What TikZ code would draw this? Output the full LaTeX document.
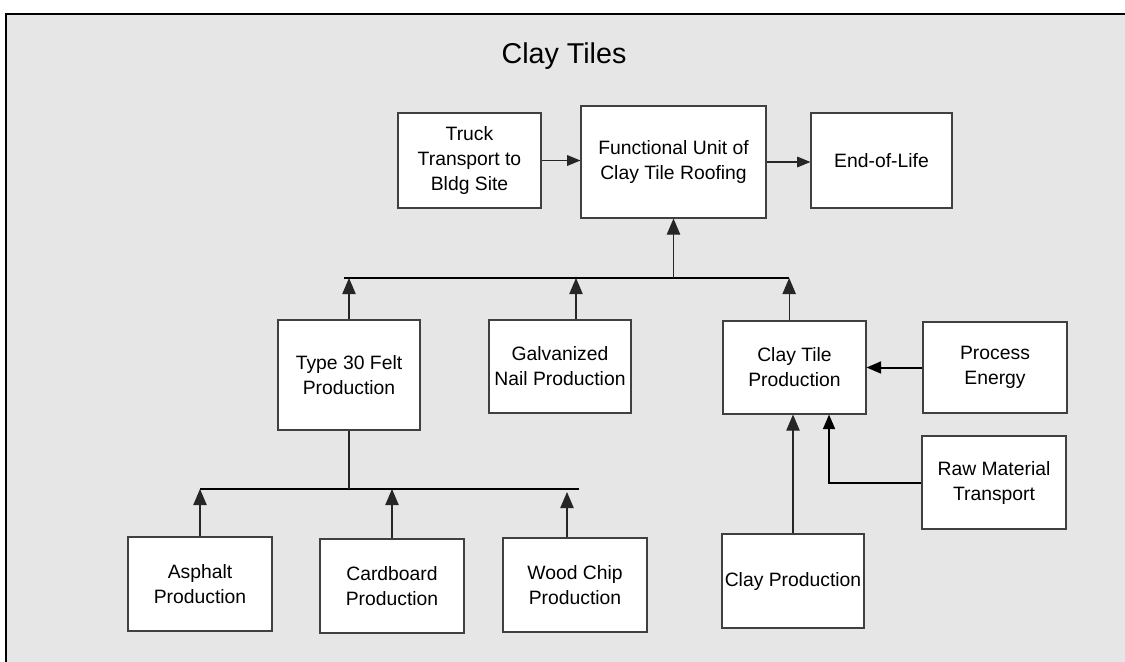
\documentclass[tikz,border=0pt]{standalone}
\usepackage{fontspec}
\setmainfont{Liberation Sans}
\usetikzlibrary{arrows.meta}
\definecolor{bg}{HTML}{E6E6E6}
\definecolor{edge}{HTML}{404040}
\begin{document}
\begin{tikzpicture}[x=0.75pt,y=-0.75pt,
  box/.style={draw=edge,line width=0.8pt,fill=white,align=center,inner sep=0pt,
    font=\fontsize{14.5pt}{18.75pt}\selectfont},
  conn/.style={draw=black!85,line width=0.8pt,-{Triangle[length=12pt,width=10pt]}},
  small conn/.style={draw=black!85,line width=0.8pt,-{Triangle[length=10pt,width=8pt]}},
  thick conn/.style={draw=black,line width=1.5pt,-{Triangle[length=11pt,width=9pt]}},
  bus/.style={draw=black,line width=1.6pt}]
\useasboundingbox (0,0) rectangle (1125,661);
\fill[white] (0,0) rectangle (1125,661);
\fill[bg] (5,13) rectangle (1130,670);
\draw[black,line width=1.6pt] (6,670) -- (6,14) -- (1130,14);
\node[font=\fontsize{21.5pt}{26pt}\selectfont] (title) at (564,56) {Clay Tiles};
% boxes
\node[box,minimum width=107.25pt,minimum height=71.25pt] (truck) at (469.5,160.5) {Truck\\Transport to\\Bldg Site};
\node[box,minimum width=138.75pt,minimum height=84pt] (fu) at (673.5,162) {Functional Unit of\\Clay Tile Roofing};
\node[box,minimum width=105.75pt,minimum height=71.25pt] (eol) at (881.5,160.5) {End-of-Life};
\node[box,minimum width=106.5pt,minimum height=82.5pt] (felt) at (349,375) {Type 30 Felt\\Production};
\node[box,minimum width=106.5pt,minimum height=69.75pt] (galv) at (560,366.5) {Galvanized\\Nail Production};
\node[box,minimum width=107.25pt,minimum height=69.75pt] (tile) at (794.5,367.5) {Clay Tile\\Production};
\node[box,minimum width=108pt,minimum height=68.25pt] (energy) at (995,367.5) {Process\\Energy};
\node[box,minimum width=108pt,minimum height=69.75pt] (raw) at (994,482.5) {Raw Material\\Transport};
\node[box,minimum width=106.5pt,minimum height=70.5pt] (clay) at (793,581) {Clay Production};
\node[box,minimum width=108pt,minimum height=70.5pt] (asph) at (200,584) {Asphalt\\Production};
\node[box,minimum width=108pt,minimum height=70.5pt] (card) at (392,586) {Cardboard\\Production};
\node[box,minimum width=108pt,minimum height=70.5pt] (wood) at (575,585) {Wood Chip\\Production};
% top row
\draw[small conn] (truck.east) -- (truck.east -| fu.west);
\draw[small conn] (fu.east) -- (fu.east -| eol.west);
% bus 1
\coordinate (b1l) at (344,278);
\coordinate (b1r) at (789,278);
\draw[bus] (b1l) -- (b1r);
\draw[conn] (fu.south |- b1l) -- (fu.south);
\draw[conn] (felt.north) -- (felt.north |- b1l);
\draw[conn] ([xshift=12pt]galv.north) -- ([xshift=12pt]galv.north |- b1l);
\draw[conn] ([xshift=-4pt]tile.north) -- ([xshift=-4pt]tile.north |- b1l);
% bus 2
\coordinate (b2l) at (200,489);
\coordinate (b2r) at (579,489);
\draw[bus] (b2l) -- (b2r);
\draw[draw=black!85,line width=0.8pt] (felt.south) -- (felt.south |- b2l);
\draw[conn] (asph.north) -- (asph.north |- b2l);
\draw[conn] (card.north) -- (card.north |- b2l);
\coordinate (wtip) at (567,492);
\draw[conn] ([xshift=-6pt]wood.north) -- (wtip);
% clay tile inputs
\draw[thick conn] (energy.west) -- (energy.west -| tile.east);
\draw[thick conn] (raw.west) -| ([xshift=25.9pt]tile.south);
\draw[conn] (clay.north) -- (clay.north |- tile.south);
\end{tikzpicture}
\end{document}
